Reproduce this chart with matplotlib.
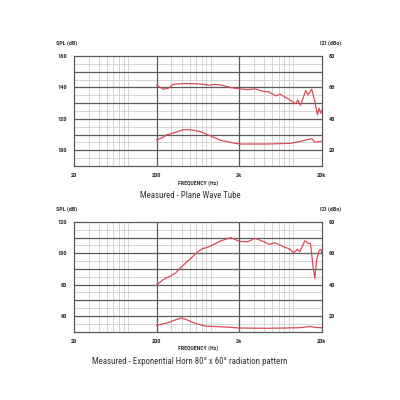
import numpy as np
import matplotlib
matplotlib.use("Agg")
import matplotlib.pyplot as plt
from matplotlib.ticker import FixedLocator, NullLocator
from matplotlib import font_manager

_names = {f.name for f in font_manager.fontManager.ttflist}
_cands = ['Liberation Sans Narrow', 'Roboto Condensed', 'Open Sans Condensed',
          'DejaVu Sans Condensed', 'Arial Narrow', 'Liberation Sans']
NARROW = next((c for c in _cands if c in _names), 'DejaVu Sans')
IS_NARROW = NARROW not in ('Liberation Sans', 'DejaVu Sans')
FONT = [NARROW, 'DejaVu Sans']
K = 1.0 if IS_NARROW else 0.82

# ---- Top chart: Plane Wave Tube ----
top_spl_f = [200, 241, 276, 317, 460, 670, 880, 1000, 1230, 1570, 2000, 2500, 3100, 3900,
             4500, 5600, 6200, 7400, 8800, 9600, 10200, 11000, 12700, 13600, 15000, 16400,
             17600, 18400, 19300, 20000]
top_spl_db = [141.4, 138.9, 139.5, 142.0, 142.5, 142.2, 141.4, 142.0, 141.4, 139.9, 139.1,
              138.6, 139.1, 137.4, 137.2, 134.6, 135.7, 133.4, 131.0, 129.6, 132.0, 128.7,
              138.0, 135.3, 138.9, 131.0, 122.6, 126.8, 123.6, 125.7]
top_imp_f = [200, 230, 265, 317, 420, 500, 670, 880, 1200, 1720, 2000, 4300, 8200, 10900,
             15000, 16400, 20000]
top_imp_val = [26.7, 27.8, 29.9, 31.0, 33.1, 33.1, 32.0, 29.3, 26.3, 24.6, 24.0, 24.0, 24.4,
               25.7, 27.4, 25.2, 25.7]

# ---- Bottom chart: Exponential Horn ----
bot_spl_f = [200, 241, 290, 340, 380, 500, 630, 720, 790, 950, 1200, 1570, 1700, 2000, 2500,
             3100, 3900, 4600, 5400, 6800, 8200, 9000, 10100, 10800, 12400, 13600, 14500,
             15600, 16400, 17200, 18500, 19400, 20000]
bot_spl_db = [79.8, 83.2, 85.4, 87.5, 90.3, 96.1, 101.0, 103.1, 103.5, 105.3, 108.0, 110.0,
              109.3, 107.6, 107.4, 109.5, 107.6, 105.7, 106.8, 104.2, 102.7, 100.3, 102.5,
              101.0, 108.0, 106.3, 106.3, 91.4, 83.9, 95.6, 102.0, 102.5, 99.9]
bot_imp_f = [200, 265, 350, 400, 450, 600, 790, 1400, 2000, 4300, 10800, 14400, 16400, 20000]
bot_imp_val = [14.0, 15.5, 17.8, 18.7, 17.8, 15.0, 13.5, 12.9, 12.3, 12.1, 12.5, 13.3, 12.7, 12.5]

x_ticks = [20, 200, 2000, 20000]
x_labels = ['20', '200', '2k', '20k']

RED = '#dc4a58'
DARK = '#5a5a5a'
LIGHT = '#cfcfcf'
TXT = '#333333'

fig = plt.figure(figsize=(4, 4), dpi=100)


def make_panel(rect, spl_lim, imp_lim, spl_ticks, imp_ticks, spl_f, spl_db, imp_f, imp_v, title):
    ax = fig.add_axes(rect)
    ax.set_xscale('log')
    ax.set_xlim(20, 20000)
    ax.set_ylim(*spl_lim)
    ax2 = ax.twinx()
    ax2.set_ylim(*imp_lim)

    minors = []
    for d in [20, 200, 2000]:
        for m in range(2, 10):
            minors.append(d / 2 * m)
    minors = [v for v in minors if 20 < v < 20000 and v not in (200, 2000)]
    for v in minors:
        ax.axvline(v, color=LIGHT, lw=0.6, zorder=1)
    for v in [200, 2000]:
        ax.axvline(v, color=DARK, lw=0.9, zorder=2)
    for y in np.arange(spl_lim[0] + 5, spl_lim[1], 5):
        if y % 10 == 0:
            ax.axhline(y, color=DARK, lw=0.9, zorder=2)
        else:
            ax.axhline(y, color=LIGHT, lw=0.6, zorder=1)
    for s in ax.spines.values():
        s.set_color(DARK)
        s.set_linewidth(0.9)
    for s in ax2.spines.values():
        s.set_visible(False)

    ts = 4.6 * K
    ax.xaxis.set_major_locator(FixedLocator(x_ticks))
    ax.xaxis.set_minor_locator(NullLocator())
    ax.set_xticklabels(x_labels)
    ax.tick_params(axis='x', which='both', length=0, pad=5, labelsize=ts)
    ax.set_yticks(spl_ticks)
    ax.tick_params(axis='y', length=0, pad=5, labelsize=ts)
    ax2.set_yticks(imp_ticks)
    ax2.tick_params(axis='y', length=0, pad=5, labelsize=ts)
    ax2.tick_params(axis='x', which='both', length=0, labelbottom=False, labeltop=False)
    for lab in ax.get_xticklabels() + ax.get_yticklabels() + ax2.get_yticklabels():
        lab.set_family(FONT)
        lab.set_fontweight('bold')
        lab.set_color(TXT)

    ax.plot(spl_f, spl_db, color=RED, lw=0.9, zorder=5)
    ax2.plot(imp_f, imp_v, color=RED, lw=0.9, zorder=5)

    l, b, w, h = rect
    fig.text(l - 0.045, b + h + 0.033, 'SPL (dB)', family=FONT, fontweight='bold',
             fontsize=4.3 * K, color=TXT, ha='left', va='center')
    fig.text(l + w + 0.047, b + h + 0.033, 'IZI (dBo)', family=FONT, fontweight='bold',
             fontsize=4.3 * K, color=TXT, ha='right', va='center')
    fig.text(l + w * 0.5, b - 0.0425, 'FREQUENCY (Hz)', family=FONT, fontweight='bold',
             fontsize=4.2 * K, color=TXT, ha='center', va='center')
    fig.text(0.475, b - 0.074, title, family=FONT, fontsize=6.4 * K, color=TXT,
             ha='center', va='center')
    return ax


make_panel([0.185, 0.585, 0.62, 0.275], (90, 160), (10, 80), [100, 120, 140, 160],
           [20, 40, 60, 80], top_spl_f, top_spl_db, top_imp_f, top_imp_val,
           'Measured - Plane Wave Tube')
make_panel([0.185, 0.171, 0.62, 0.274], (50, 120), (10, 80), [60, 80, 100, 120],
           [20, 40, 60, 80], bot_spl_f, bot_spl_db, bot_imp_f, bot_imp_val,
           'Measured - Exponential Horn 80° x 60° radiation pattern')

fig.savefig('out.png', dpi=100, facecolor='white')
